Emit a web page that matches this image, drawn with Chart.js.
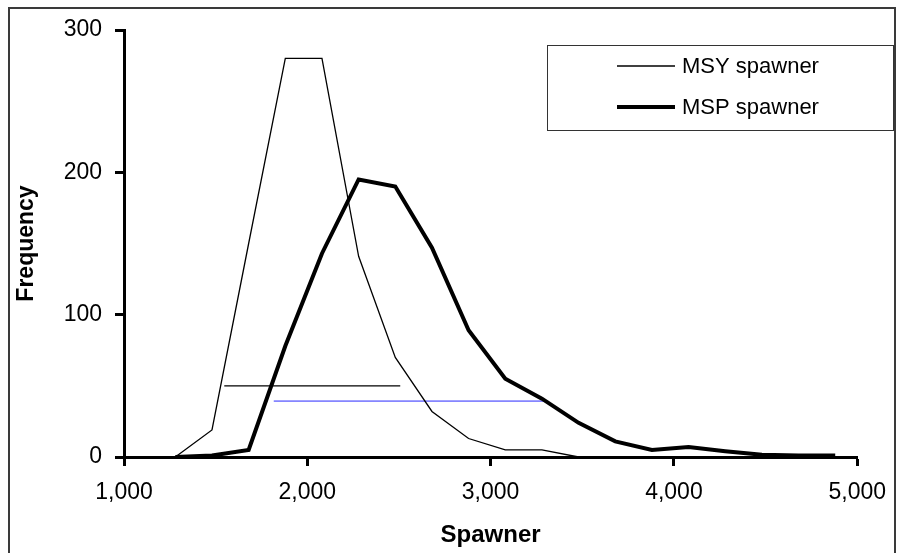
<!DOCTYPE html>
<html>
<head>
<meta charset="utf-8">
<script src="https://cdn.jsdelivr.net/npm/chart.js@4/dist/chart.umd.min.js"></script>
<style>
  body { margin: 0; background: #fff; }
</style>
</head>
<body>
<canvas id="mycanvas" width="899" height="553"></canvas>
<script>
// bin centres on the spawner axis
var spawner = [1280, 1480, 1680, 1880, 2080, 2280, 2480, 2680, 2880, 3080, 3280, 3480, 3680, 3880, 4080, 4280, 4480, 4680, 4880];
// frequencies
var msyFreq = [0, 19, 150, 280, 280, 141, 70, 32, 13, 5, 5, 0, 0, 0, 0, 0, 0, 0, 0];
var mspFreq = [0, 1, 5, 78, 143, 195, 190, 147, 89, 55, 41, 24, 11, 5, 7, 4, 1.5, 1, 1];
// the two horizontal interval bars
var msyBarX = [1547, 2507];
var msyBarY = 50;
var mspBarX = [1817, 3306];
var mspBarY = 39.3;

var xTicks = [1000, 2000, 3000, 4000, 5000];
var yTicks = [0, 100, 200, 300];

var FONT = "'Liberation Sans', Arial, sans-serif";

function pts(xs, ys) {
	var out = [];
	for (var i in xs) {
		out.push({x: xs[i], y: ys[i]});
	}
	return out;
}

var chartdata = {
	datasets: [
		{
			label: 'MSY spawner',
			data: pts(spawner, msyFreq),
			borderColor: '#000',
			borderWidth: 1.3,
			pointRadius: 0,
			tension: 0,
			clip: false,
			inLegend: true
		},
		{
			label: 'MSP spawner',
			data: pts(spawner, mspFreq),
			borderColor: '#000',
			borderWidth: 4,
			pointRadius: 0,
			tension: 0,
			clip: false,
			inLegend: true
		},
		{
			label: 'MSY range',
			data: pts(msyBarX, [msyBarY, msyBarY]),
			borderColor: '#000',
			borderWidth: 1.2,
			pointRadius: 0,
			clip: false
		},
		{
			label: 'MSP range',
			data: pts(mspBarX, [mspBarY, mspBarY]),
			borderColor: '#2a2aff',
			borderWidth: 1,
			pointRadius: 0,
			clip: false
		}
	]
};

// outer frame + legend box drawn by hand (Excel style)
var framePlugin = {
	id: 'frame',
	beforeDraw: function(chart) {
		var c = chart.ctx;
		c.save();
		c.fillStyle = '#fff';
		c.fillRect(0, 0, chart.width, chart.height);
		c.strokeStyle = '#3a3a3a';
		c.lineWidth = 2;
		c.beginPath();
		c.moveTo(9, chart.height);
		c.lineTo(9, 8);
		c.lineTo(895, 8);
		c.lineTo(895, chart.height);
		c.stroke();
		c.restore();
	},
	afterDraw: function(chart) {
		var c = chart.ctx;
		c.save();
		c.fillStyle = '#fff';
		c.fillRect(547, 45, 347, 85);
		c.strokeStyle = '#333';
		c.lineWidth = 1;
		c.strokeRect(547.5, 45.5, 346, 85);
		var rows = [66, 107];
		var k = 0;
		chart.data.datasets.forEach(function(ds) {
			if (!ds.inLegend) return;
			var y = rows[k++];
			c.strokeStyle = ds.borderColor;
			c.lineWidth = ds.borderWidth;
			c.beginPath();
			c.moveTo(617, y);
			c.lineTo(675, y);
			c.stroke();
			c.fillStyle = '#000';
			c.font = '22px ' + FONT;
			c.textBaseline = 'middle';
			c.fillText(ds.label, 682, y + 1);
		});
		c.restore();
	}
};

var ctx = document.getElementById('mycanvas');

var lineGraph = new Chart(ctx, {
	type: 'line',
	data: chartdata,
	plugins: [framePlugin],
	options: {
		responsive: false,
		animation: false,
		layout: { padding: { left: 0, top: 30, right: 36, bottom: 0 } },
		plugins: {
			legend: { display: false },
			tooltip: { enabled: false }
		},
		scales: {
			x: {
				type: 'linear',
				min: 1000,
				max: 5000,
				afterFit: function(scale) { scale.height = 96; },
				afterBuildTicks: function(scale) {
					scale.ticks = xTicks.map(function(v) { return {value: v}; });
				},
				ticks: {
					color: '#000',
					padding: 13,
					maxRotation: 0,
					autoSkip: false,
					font: { family: FONT, size: 23 },
					callback: function(v) { return v.toLocaleString('en-US'); }
				},
				grid: {
					drawOnChartArea: false,
					drawTicks: true,
					tickLength: 9,
					tickWidth: 3,
					tickColor: '#000'
				},
				border: { display: true, color: '#000', width: 3 },
				title: {
					display: true,
					text: 'Spawner',
					color: '#000',
					font: { family: FONT, size: 24, weight: 'bold' },
					padding: { top: 0, bottom: 3 }
				}
			},
			y: {
				min: 0,
				max: 300,
				afterFit: function(scale) { scale.width = 124; },
				afterBuildTicks: function(scale) {
					scale.ticks = yTicks.map(function(v) { return {value: v}; });
				},
				ticks: {
					color: '#000',
					padding: 13,
					autoSkip: false,
					font: { family: FONT, size: 23 }
				},
				grid: {
					drawOnChartArea: false,
					drawTicks: true,
					tickLength: 9,
					tickWidth: 3,
					tickColor: '#000'
				},
				border: { display: true, color: '#000', width: 3 },
				title: {
					display: true,
					text: 'Frequency',
					color: '#000',
					font: { family: FONT, size: 23, weight: 'bold' },
					padding: { top: 13, bottom: 0 }
				}
			}
		}
	}
});
</script>
</body>
</html>
